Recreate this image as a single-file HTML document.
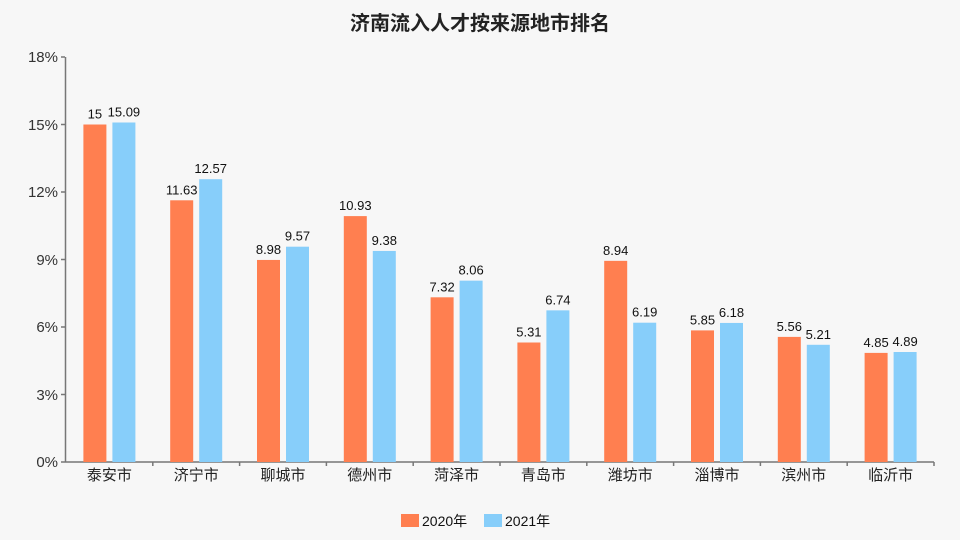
<!DOCTYPE html>
<html><head><meta charset="utf-8"><style>
html,body{margin:0;padding:0;background:#f7f7f7;}
svg{display:block;font-family:"Liberation Sans","Noto Sans CJK SC",sans-serif;}
</style></head><body>
<svg width="960" height="540" viewBox="0 0 960 540">
<rect width="960" height="540" fill="#f7f7f7"/>
<text x="480" y="30" text-anchor="middle" font-size="20" font-weight="bold" fill="#222">济南流入人才按来源地市排名</text>
<g font-size="15" fill="#333" text-anchor="end">
<text x="58" y="467">0%</text>
<text x="58" y="400">3%</text>
<text x="58" y="332">6%</text>
<text x="58" y="265">9%</text>
<text x="58" y="197">12%</text>
<text x="58" y="130">15%</text>
<text x="58" y="62">18%</text>
</g>
<g stroke="#777" stroke-width="1.5">
<line x1="65.5" y1="57" x2="65.5" y2="462"/>
<line x1="65" y1="462" x2="934" y2="462"/>
<line x1="61" y1="462" x2="65" y2="462"/><line x1="61" y1="394.5" x2="65" y2="394.5"/><line x1="61" y1="327" x2="65" y2="327"/><line x1="61" y1="259.5" x2="65" y2="259.5"/><line x1="61" y1="192" x2="65" y2="192"/><line x1="61" y1="124.5" x2="65" y2="124.5"/><line x1="61" y1="57" x2="65" y2="57"/>
<line x1="152.8" y1="462" x2="152.8" y2="466"/><line x1="239.6" y1="462" x2="239.6" y2="466"/><line x1="326.4" y1="462" x2="326.4" y2="466"/><line x1="413.2" y1="462" x2="413.2" y2="466"/><line x1="500" y1="462" x2="500" y2="466"/><line x1="586.8" y1="462" x2="586.8" y2="466"/><line x1="673.6" y1="462" x2="673.6" y2="466"/><line x1="760.4" y1="462" x2="760.4" y2="466"/><line x1="847.2" y1="462" x2="847.2" y2="466"/><line x1="934" y1="462" x2="934" y2="466"/>
</g>
<g fill="#ff7f50">
<rect x="83.4" y="124.5" width="23" height="337.5"/>
<rect x="170.2" y="200.3" width="23" height="261.7"/>
<rect x="257" y="259.95" width="23" height="202.05"/>
<rect x="343.8" y="216.1" width="23" height="245.9"/>
<rect x="430.6" y="297.3" width="23" height="164.7"/>
<rect x="517.4" y="342.5" width="23" height="119.5"/>
<rect x="604.2" y="260.85" width="23" height="201.15"/>
<rect x="691" y="330.4" width="23" height="131.6"/>
<rect x="777.8" y="336.9" width="23" height="125.1"/>
<rect x="864.6" y="352.9" width="23" height="109.1"/>
</g>
<g fill="#87cefa">
<rect x="112.4" y="122.5" width="23" height="339.5"/>
<rect x="199.2" y="179.2" width="23" height="282.8"/>
<rect x="286" y="246.7" width="23" height="215.3"/>
<rect x="372.8" y="250.95" width="23" height="211.05"/>
<rect x="459.6" y="280.65" width="23" height="181.35"/>
<rect x="546.4" y="310.35" width="23" height="151.65"/>
<rect x="633.2" y="322.7" width="23" height="139.3"/>
<rect x="720" y="322.95" width="23" height="139.05"/>
<rect x="806.8" y="344.8" width="23" height="117.2"/>
<rect x="893.6" y="352" width="23" height="110"/>
</g>
<g font-size="13" fill="#111" text-anchor="middle">
<text x="94.9" y="118.5">15</text>
<text x="181.7" y="194.3">11.63</text>
<text x="268.5" y="254">8.98</text>
<text x="355.3" y="210.1">10.93</text>
<text x="442.1" y="291.3">7.32</text>
<text x="528.9" y="336.5">5.31</text>
<text x="615.7" y="254.9">8.94</text>
<text x="702.5" y="324.4">5.85</text>
<text x="789.3" y="330.9">5.56</text>
<text x="876.1" y="346.9">4.85</text>
<text x="123.9" y="116.5">15.09</text>
<text x="210.7" y="173.2">12.57</text>
<text x="297.5" y="240.7">9.57</text>
<text x="384.3" y="245">9.38</text>
<text x="471.1" y="274.7">8.06</text>
<text x="557.9" y="304.4">6.74</text>
<text x="644.7" y="316.7">6.19</text>
<text x="731.5" y="317">6.18</text>
<text x="818.3" y="338.8">5.21</text>
<text x="905.1" y="346">4.89</text>
</g>
<g font-size="15" fill="#222" text-anchor="middle">
<text x="109.4" y="480">泰安市</text>
<text x="196.2" y="480">济宁市</text>
<text x="283" y="480">聊城市</text>
<text x="369.8" y="480">德州市</text>
<text x="456.6" y="480">菏泽市</text>
<text x="543.4" y="480">青岛市</text>
<text x="630.2" y="480">潍坊市</text>
<text x="717" y="480">淄博市</text>
<text x="803.8" y="480">滨州市</text>
<text x="890.6" y="480">临沂市</text>
</g>
<g font-size="14" fill="#111">
<rect x="401" y="514" width="18" height="13" fill="#ff7f50"/><text x="422" y="526">2020年</text>
<rect x="484" y="514" width="18" height="13" fill="#87cefa"/><text x="505" y="526">2021年</text>
</g>
</svg>
</body></html>
